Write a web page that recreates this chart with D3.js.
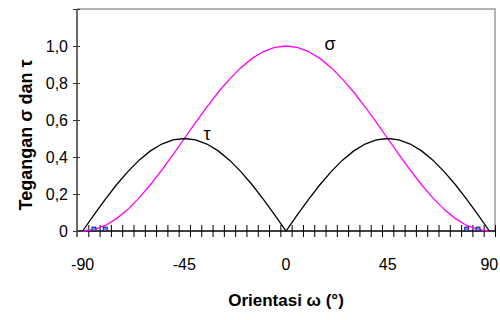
<!DOCTYPE html>
<html>
<head>
<meta charset="utf-8">
<script src="https://cdn.jsdelivr.net/npm/d3@7"></script>
<style>
  body { margin: 0; background: #fff; }
  svg { display: block; font-family: "Liberation Sans", Arial, sans-serif; }
</style>
</head>
<body>
<svg id="chart"></svg>
<script>
// orientation angles (degrees), one category every 5
const angles = [-90, -85, -80, -75, -70, -65, -60, -55, -50, -45, -40, -35, -30, -25, -20, -15, -10, -5, 0,
                5, 10, 15, 20, 25, 30, 35, 40, 45, 50, 55, 60, 65, 70, 75, 80, 85, 90];

// normal stress sigma (magenta)
const sigma = [0, 0.008, 0.030, 0.067, 0.117, 0.179, 0.250, 0.329, 0.413, 0.500, 0.587, 0.671, 0.750, 0.821, 0.883, 0.933, 0.970, 0.992, 1.000,
               0.992, 0.970, 0.933, 0.883, 0.821, 0.750, 0.671, 0.587, 0.500, 0.413, 0.329, 0.250, 0.179, 0.117, 0.067, 0.030, 0.008, 0];

// shear stress tau (black)
const tau = [0, 0.087, 0.171, 0.250, 0.321, 0.383, 0.433, 0.470, 0.492, 0.500, 0.492, 0.470, 0.433, 0.383, 0.321, 0.250, 0.171, 0.087, 0,
             0.087, 0.171, 0.250, 0.321, 0.383, 0.433, 0.470, 0.492, 0.500, 0.492, 0.470, 0.433, 0.383, 0.321, 0.250, 0.171, 0.087, 0];

// small square markers sitting on the axis
const markerAngles = [-85, -80, 80, 85];
const markerVals = [0.008, 0.008, 0.008, 0.008];

const xLabels = [-90, -45, 0, 45, 90];
const yTicks = [0, 0.2, 0.4, 0.6, 0.8, 1.0, 1.2];

const width = 500, height = 320;
const plot = { left: 77, right: 495, top: 9, bottom: 231 };

const svg = d3.select('#chart')
    .attr('width', width)
    .attr('height', height);

const x = d3.scaleBand()
    .domain(angles)
    .range([plot.left, plot.right]);
const cx = d => x(d) + x.bandwidth() / 2;

// boundaries between categories (Excel style ticks)
const xEdge = d3.scaleLinear()
    .domain([0, angles.length])
    .range([plot.left, plot.right]);

const y = d3.scaleLinear()
    .domain([0, 1.2])
    .range([plot.bottom, plot.top]);

// plot frame top + right
svg.append('path')
    .attr('d', `M${plot.left},${plot.top}H${plot.right}V${plot.bottom}`)
    .attr('fill', 'none')
    .attr('stroke', '#9a9a9a')
    .attr('stroke-width', 1.5);

// x axis ticks (crossing)
const xTickG = svg.append('g')
    .attr('transform', `translate(0,${plot.bottom})`)
    .call(d3.axisBottom(xEdge).tickValues(d3.range(1, angles.length + 1)).tickSize(6).tickFormat(''));
xTickG.select('.domain').remove();
xTickG.selectAll('.tick line')
    .attr('y1', -6)
    .attr('stroke', '#000');

// x axis labels
const xLabG = svg.append('g')
    .attr('transform', `translate(0,${plot.bottom})`)
    .call(d3.axisBottom(x).tickValues(xLabels).tickSize(0).tickPadding(0));
xLabG.select('.domain').remove();
xLabG.selectAll('text')
    .attr('dy', 0)
    .attr('y', 39)
    .attr('font-size', 16)
    .attr('font-family', '"Liberation Sans", Arial, sans-serif')
    .attr('fill', '#000');

svg.append('line')
    .attr('x1', plot.left).attr('x2', plot.right)
    .attr('y1', plot.bottom).attr('y2', plot.bottom)
    .attr('stroke', '#000')
    .attr('stroke-width', 1.3);

// y axis
const yAxisG = svg.append('g')
    .attr('transform', `translate(${plot.left},0)`)
    .call(d3.axisLeft(y)
        .tickValues(yTicks)
        .tickSize(4)
        .tickPadding(5)
        .tickFormat(d => d === 0 ? '0' : (d > 1.1 ? '' : d3.format('.1f')(d).replace('.', ','))));
yAxisG.select('.domain').remove();
yAxisG.selectAll('.tick line')
    .attr('x1', 3)
    .attr('stroke', '#333');
yAxisG.selectAll('text')
    .attr('font-size', 16)
    .attr('font-family', '"Liberation Sans", Arial, sans-serif')
    .attr('fill', '#000');

svg.append('line')
    .attr('x1', plot.left).attr('x2', plot.left)
    .attr('y1', plot.top).attr('y2', plot.bottom + 6)
    .attr('stroke', '#444')
    .attr('stroke-width', 1.6);

// lines
const line = d3.line()
    .x((d, i) => cx(angles[i]))
    .y(d => y(d));

svg.append('path')
    .datum(sigma)
    .attr('d', line)
    .attr('fill', 'none')
    .attr('stroke', '#ff00ff')
    .attr('stroke-width', 1.3);

svg.append('path')
    .datum(tau)
    .attr('d', line)
    .attr('fill', 'none')
    .attr('stroke', '#000')
    .attr('stroke-width', 1.3);

// markers
svg.selectAll('rect.marker')
    .data(markerAngles)
    .enter()
    .append('rect')
    .attr('class', 'marker')
    .attr('x', d => cx(d) - 2)
    .attr('y', (d, i) => y(markerVals[i]) - 2.5)
    .attr('width', 4)
    .attr('height', 4)
    .attr('fill', '#7b86e0')
    .attr('stroke', '#000080')
    .attr('stroke-width', 0.8);

// series labels
svg.append('text')
    .attr('x', 330).attr('y', 50)
    .attr('text-anchor', 'middle')
    .attr('font-size', 18)
    .text('σ');
svg.append('text')
    .attr('x', 207).attr('y', 140)
    .attr('text-anchor', 'middle')
    .attr('font-size', 18)
    .text('τ');

// axis titles
svg.append('text')
    .attr('x', 286).attr('y', 306)
    .attr('text-anchor', 'middle')
    .attr('font-size', 17)
    .attr('font-weight', 'bold')
    .text('Orientasi ω (°)');

svg.append('text')
    .attr('transform', 'translate(32,135) rotate(-90)')
    .attr('text-anchor', 'middle')
    .attr('font-size', 18)
    .attr('font-weight', 'bold')
    .text('Tegangan σ dan τ');
</script>
</body>
</html>
